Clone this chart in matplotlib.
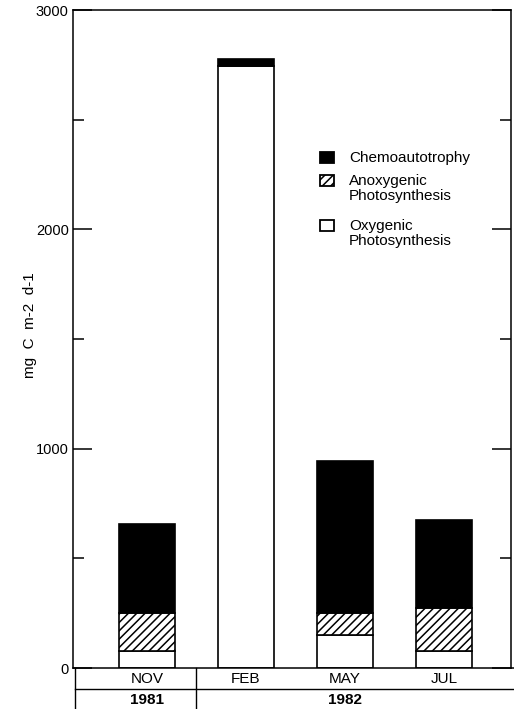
import matplotlib
matplotlib.use("Agg")
import matplotlib.pyplot as plt
from matplotlib.patches import Rectangle
from matplotlib.lines import Line2D
from matplotlib.transforms import blended_transform_factory
from matplotlib.ticker import MultipleLocator

plt.rcParams['font.family'] = ['Liberation Sans', 'DejaVu Sans']
plt.rcParams['hatch.linewidth'] = 1.1

months = ["NOV", "FEB", "MAY", "JUL"]
years = ["1981", "1982"]
year_pos = [0, 2]
oxygenic = [77, 2745, 150, 77]
anoxygenic = [173, 0, 100, 196]
chemo = [405, 32, 695, 400]
legend_labels = ["Chemoautotrophy", "Anoxygenic\nPhotosynthesis", "Oxygenic\nPhotosynthesis"]

W, H = 514, 709
fig = plt.figure(figsize=(W / 100, H / 100), dpi=100)
ax = fig.add_axes([73 / W, 1 - 668 / H, (511 - 73) / W, (668 - 10) / H])

x = list(range(len(months)))
bw = 0.56
lw = 1.2
ax.bar(x, oxygenic, bw, color='white', edgecolor='black', linewidth=lw)
bot2 = oxygenic
ax.bar(x, anoxygenic, bw, bottom=bot2, color='white', edgecolor='black',
       linewidth=lw, hatch='////')
bot3 = [a + b for a, b in zip(oxygenic, anoxygenic)]
ax.bar(x, chemo, bw, bottom=bot3, color='black', edgecolor='black', linewidth=lw)

ax.set_xlim(-0.747, 3.677)
ax.set_ylim(0, 3000)
ax.set_xticks([])
ax.yaxis.set_major_locator(MultipleLocator(1000))
ax.yaxis.set_minor_locator(MultipleLocator(500))
ax.tick_params(axis='y', which='major', direction='in', length=14, width=1.1,
               labelsize=10.5, right=True, pad=3)
ax.tick_params(axis='y', which='minor', direction='in', length=8, width=1.1, right=True)
for s in ax.spines.values():
    s.set_linewidth(1.1)

fig.text(30 / W, 1 - 325 / H, "mg  C  m-2  d-1", rotation=90, ha='center', va='center',
         fontsize=11)

# Table below the axis
ft = fig.transFigure
def fy(py):
    return 1 - py / H
fig.add_artist(Line2D([75 / W, 1], [fy(689), fy(689)], color='black', lw=1.0, transform=ft))
fig.add_artist(Line2D([75 / W, 75 / W], [fy(668), 0], color='black', lw=1.0, transform=ft))
fig.add_artist(Line2D([511 / W, 1], [fy(668), fy(668)], color='black', lw=1.1, transform=ft))
bt = blended_transform_factory(ax.transData, ft)
fig.add_artist(Line2D([0.5, 0.5], [fy(668), 0], color='black', lw=1.0, transform=bt))
for xi, m in zip(x, months):
    fig.text(xi, fy(679), m, transform=bt, ha='center', va='center', fontsize=11)
for xi, yv in zip(year_pos, years):
    fig.text(xi, fy(699.5), yv, transform=bt, ha='center', va='center', fontsize=11,
             fontweight='bold')

# Legend (manual)
leg_y = [158, 181, 226]
hatches = [None, '////', None]
faces = ['black', 'white', 'white']
for ly, lab, hc, fc in zip(leg_y, legend_labels, hatches, faces):
    r = Rectangle((320 / W, fy(ly + 5)), 14 / W, 11 / H, transform=ft, facecolor=fc,
                  edgecolor='black', linewidth=1.3, hatch=hc)
    fig.add_artist(r)
    fig.text(349 / W, fy(ly - 7), lab, ha='left', va='top', fontsize=11,
             linespacing=1.1)

fig.savefig("out.png", dpi=100)
